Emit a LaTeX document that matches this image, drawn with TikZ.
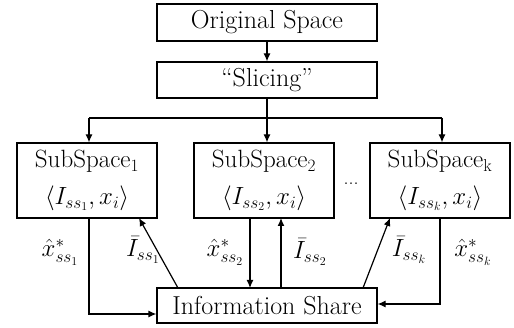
\documentclass[tikz,border=0pt]{standalone}
\usetikzlibrary{arrows.meta,calc}
\begin{document}
\begin{tikzpicture}[x=1pt,y=-1pt,
  box/.style={draw, line width=1.2pt, inner sep=0pt, align=center, font=\fontsize{26}{30}\selectfont},
  ssbox/.style={box, minimum width=140pt, minimum height=75pt, font=\fontsize{25}{37}\selectfont},
  wide/.style={box, minimum width=220pt},
  conn/.style={line width=1.2pt, -{Latex[length=8pt,width=7pt]}},
  lbl/.style={font=\fontsize{25}{28}\selectfont, inner sep=0pt}]
\useasboundingbox (0,0) rectangle (514,328);
\node[wide, minimum height=37pt] (orig) at (267,22.5) {Original Space};
\node[wide, minimum height=36pt] (slice) at (267,80) {``Slicing''};
\node[ssbox] (ss1) at (87,180.5) {SubSpace$_1$\\$\langle I_{ss_1}, x_i\rangle$};
\node[ssbox] (ss2) at (264,180.5) {SubSpace$_2$\\$\langle I_{ss_2}, x_i\rangle$};
\node[ssbox] (ssk) at (440,180.5) {SubSpace$_\mathrm{k}$\\$\langle I_{ss_k}, x_i\rangle$};
\node[wide, minimum height=35pt] (info) at (267,305.5) {Information Share};
\node[lbl, font=\fontsize{20}{24}\selectfont] (dots) at (351,184) {...};
% top connectors
\draw[conn] (orig.south) -- (slice.north);
\coordinate (bl) at (89,118);
\coordinate (br) at (442,118);
\draw[conn] (slice.south) -- (slice.south |- ss2.north);
\draw[line width=1.2pt] (bl) -- (br);
\draw[conn] (bl) -- (bl |- ss1.north);
\draw[conn] (br) -- (br |- ssk.north);
% bottom connectors
\coordinate (a1) at (89,218);
\coordinate (a1c) at (89,314);
\draw[conn] (a1) -- (a1c) -- (a1c -| info.west);
\coordinate (b1s) at (178,288);
\coordinate (b1e) at (139,218);
\draw[conn] (b1s) -- (b1e);
\coordinate (a2s) at (250,218);
\coordinate (a2e) at (250,288);
\draw[conn] (a2s) -- (a2e);
\coordinate (b2s) at (281,288);
\coordinate (b2e) at (281,218);
\draw[conn] (b2s) -- (b2e);
\coordinate (bks) at (363,288);
\coordinate (bke) at (390,218);
\draw[conn] (bks) -- (bke);
\coordinate (ak) at (440,218);
\coordinate (akc) at (440,304);
\draw[conn] (ak) -- (akc) -- (akc -| info.east);
% labels
\node[lbl] (l1) at (60,252) {$\hat{x}^{*}_{ss_1}$};
\node[lbl] (m1) at (143,250) {$\bar{I}_{ss_1}$};
\node[lbl] (l2) at (225,252) {$\hat{x}^{*}_{ss_2}$};
\node[lbl] (m2) at (310,252) {$\bar{I}_{ss_2}$};
\node[lbl] (mk) at (409,250) {$\bar{I}_{ss_k}$};
\node[lbl] (lk) at (473,252) {$\hat{x}^{*}_{ss_k}$};
\end{tikzpicture}
\end{document}
